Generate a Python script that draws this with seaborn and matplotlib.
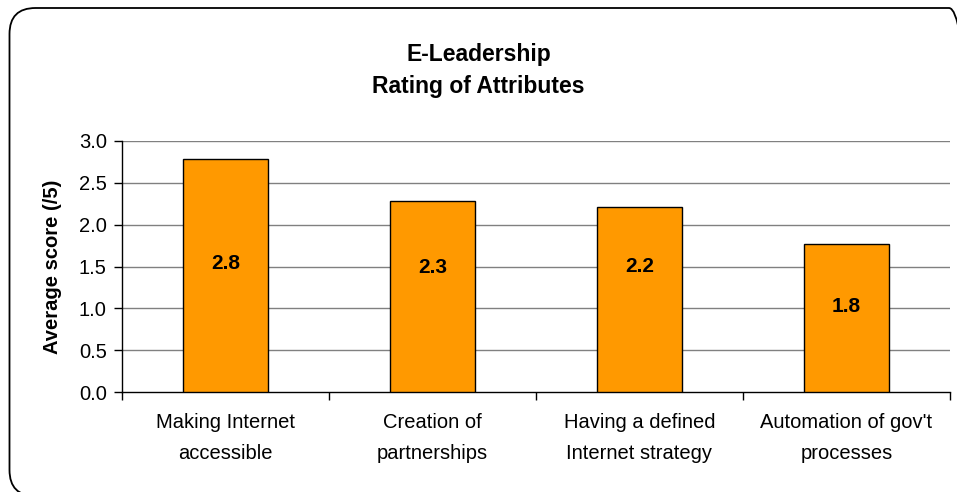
import matplotlib
matplotlib.use("Agg")
import matplotlib.pyplot as plt
from matplotlib.patches import FancyBboxPatch
import seaborn as sns
import pandas as pd

categories = [
    "Making Internet\naccessible",
    "Creation of\npartnerships",
    "Having a defined\nInternet strategy",
    "Automation of gov't\nprocesses",
]
scores = [2.79, 2.28, 2.21, 1.77]
y_ticks = [0.0, 0.5, 1.0, 1.5, 2.0, 2.5, 3.0]

sns.set_theme(style="white")
plt.rcParams["font.family"] = ["Liberation Sans", "DejaVu Sans"]
plt.rcParams.update({"text.color": "black", "axes.labelcolor": "black",
                     "xtick.color": "black", "ytick.color": "black"})

df = pd.DataFrame({"attribute": categories, "score": scores})

W, H = 957, 492
fig = plt.figure(figsize=(W / 100, H / 100), dpi=100)

# background layer in pixel units for the rounded chart frame
bg = fig.add_axes([0, 0, 1, 1], zorder=0)
bg.set_xlim(0, W)
bg.set_ylim(0, H)
bg.axis("off")
bg.add_patch(FancyBboxPatch((9.5, -4), 975 - 9.5, (H - 8) + 4,
                            boxstyle="round,pad=0,rounding_size=26",
                            fill=False, edgecolor="black", linewidth=1.3,
                            clip_on=False))

ax = fig.add_axes([122 / W, 1 - 392 / H, (950 - 122) / W, (392 - 141) / H],
                  zorder=1)
ax.patch.set_alpha(0)

sns.barplot(data=df, x="attribute", y="score", ax=ax, color="#FF9900",
            edgecolor="black", linewidth=1.0, width=0.41, saturation=1,
            zorder=3)

ax.set_ylim(0, 3.0)
ax.set_xlim(-0.5, len(categories) - 0.5)
ax.set_yticks(y_ticks)
ax.set_yticklabels([f"{t:.1f}" for t in y_ticks], fontsize=14.5)
for t in y_ticks[1:]:
    ax.axhline(t, color="#808080", linewidth=1.0, zorder=1)

# tick marks at category boundaries; names centred between them
ax.set_xticks([i - 0.5 for i in range(len(categories) + 1)])
ax.set_xticklabels([])
ax.tick_params(axis="x", direction="out", length=6, width=1,
               color="black", bottom=True)
ax.tick_params(axis="y", direction="out", length=6, width=1, color="black",
               left=True, pad=5)
for i, name in enumerate(categories):
    ax.annotate(name, xy=(i, 0), xycoords=("data", "axes fraction"),
                xytext=(0, -33), textcoords="offset points",
                ha="center", va="center", multialignment="center",
                linespacing=1.8, fontsize=14.5)

for side in ["top", "right"]:
    ax.spines[side].set_visible(False)
for side in ["left", "bottom"]:
    ax.spines[side].set_color("black")
    ax.spines[side].set_linewidth(1.0)

ax.set_xlabel("")
ax.set_ylabel("Average score (/5)", fontsize=14.5, fontweight="bold", labelpad=12)

# value labels sit inside the bars at hand-placed heights
label_heights = [1.54, 1.49, 1.50, 1.02]
for i, (v, yh) in enumerate(zip(scores, label_heights)):
    ax.text(i, yh, f"{v:.1f}", ha="center", va="center",
            fontsize=15, fontweight="bold", zorder=4)

fig.text(0.5, 1 - 54 / H, "E-Leadership", ha="center", va="center",
         fontsize=16.5, fontweight="bold")
fig.text(0.5, 1 - 86 / H, "Rating of Attributes", ha="center", va="center",
         fontsize=16.5, fontweight="bold")

fig.savefig("out.png", dpi=100, facecolor="white")
